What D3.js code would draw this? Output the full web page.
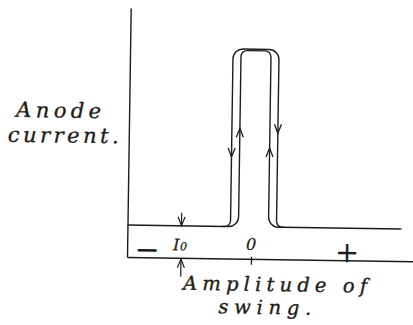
<!DOCTYPE html>
<html>
<head>
<meta charset="utf-8">
<script src="https://cdn.jsdelivr.net/npm/d3@7"></script>
<style>
  body { margin: 0; background: #fff; }
  svg { display: block; }
</style>
</head>
<body>
<div id="chart"></div>
<script>
const w = 413, h = 325;
const m = {l: 127, r: 0, t: 8, b: 68};
const ink = "#1c1c1c";

// amplitude of swing (x) against anode current (y), arbitrary units
const amplitudeDomain = [-1.24, 1.62];
const currentDomain = [0, 10];
const restingCurrent = 1.285; // I0
const outerTrace = [[-1.24, 1.285], [-0.21, 1.285], [-0.21, 8.42], [0.25, 8.42], [0.25, 1.285], [1.5, 1.285]];
const innerTrace = [[-0.30, 1.285], [-0.13, 1.285], [-0.13, 8.36], [0.17, 8.36], [0.17, 1.285], [0.34, 1.285]];
const traceArrows = [[-0.21, 4.08, "down"], [-0.13, 5.24, "up"], [0.17, 4.46, "up"], [0.25, 5.06, "down"]];
// I0 marker arrows: [amplitude, tail current, tip current]
const markerArrows = [[-0.7, 1.81, 1.285], [-0.7, -0.76, -0.04]];
const xTicks = [0];
const signLabels = [[-1.04, "\u2212"], [0.96, "+"]];

const x = d3.scaleLinear().domain(amplitudeDomain).range([m.l, w - m.r]);
const y = d3.scaleLinear().domain(currentDomain).range([h - m.b, m.t]);

const svg = d3.select("#chart").append("svg")
  .attr("width", w).attr("height", h)
  .attr("viewBox", `0 0 ${w} ${h}`);

// the printed figure sits a little askew on the page
const g = svg.append("g")
  .attr("transform", `rotate(0.85, ${x.range()[0]}, ${y(0)})`);

// axes
const xAxis = g.append("g")
  .attr("transform", `translate(0,${y(0)})`)
  .call(d3.axisBottom(x).tickValues(xTicks).tickFormat("").tickSizeOuter(0).tickSizeInner(6));
const yAxis = g.append("g")
  .attr("transform", `translate(${x.range()[0]},0)`)
  .call(d3.axisLeft(y).tickValues([]).tickSizeOuter(0));
g.selectAll(".domain").attr("stroke", ink).attr("stroke-width", 1.4);
xAxis.selectAll(".tick line").attr("stroke", ink).attr("stroke-width", 1.3).attr("y1", -2);

// rounded polyline through the trace points
function rounded(pts, radii) {
  const p = d3.path();
  const px = pts.map(d => [x(d[0]), y(d[1])]);
  p.moveTo(px[0][0], px[0][1]);
  for (let i = 1; i < px.length - 1; i++) {
    p.arcTo(px[i][0], px[i][1], px[i + 1][0], px[i + 1][1], radii[i - 1]);
  }
  p.lineTo(px[px.length - 1][0], px[px.length - 1][1]);
  return p.toString();
}

g.append("path")
  .attr("d", rounded(outerTrace, [6, 10, 10, 6]))
  .attr("fill", "none").attr("stroke", ink).attr("stroke-width", 1.4);
g.append("path")
  .attr("d", rounded(innerTrace, [10, 6, 6, 10]))
  .attr("fill", "none").attr("stroke", ink).attr("stroke-width", 1.4);

function head(px, py, dir) {
  const s = dir === "down" ? -1 : 1;
  return `M${px - 3.5},${py + s * 9}L${px},${py}L${px + 3.5},${py + s * 9}`;
}

g.selectAll(".trace-arrow")
  .data(traceArrows)
  .join("path")
    .attr("class", "trace-arrow")
    .attr("d", d => head(x(d[0]), y(d[1]), d[2]))
    .attr("fill", "none").attr("stroke", ink).attr("stroke-width", 1.3);

const marks = g.selectAll(".marker")
  .data(markerArrows)
  .join("g")
    .attr("class", "marker");
marks.append("line")
  .attr("x1", d => x(d[0])).attr("x2", d => x(d[0]))
  .attr("y1", d => y(d[1])).attr("y2", d => y(d[2]))
  .attr("stroke", ink).attr("stroke-width", 1.2);
marks.append("path")
  .attr("d", d => head(x(d[0]), y(d[2]), d[2] < d[1] ? "down" : "up"))
  .attr("fill", "none").attr("stroke", ink).attr("stroke-width", 1.2);

// labels, a touch heavier to match the hand lettering
const font = "'DejaVu Serif', serif";
function label(txt, lx, ly, size, len) {
  const t = g.append("text")
    .attr("x", lx).attr("y", ly)
    .attr("font-family", font).attr("font-style", "italic")
    .attr("font-size", size).attr("fill", ink)
    .attr("stroke", ink).attr("stroke-width", 0.35)
    .text(txt);
  if (len) t.attr("textLength", len).attr("lengthAdjust", "spacing");
  return t;
}

label("Anode", 14, 118.5, 21, 85);
label("current.", 6, 143.5, 21, 111);
label("Amplitude of", 183.5, 289, 19.5, 184);
label("swing.", 219, 312, 19.5, 93);

// I0 and zero on the axis
const i0 = g.append("text")
  .attr("x", x(-0.78)).attr("y", y(restingCurrent) + 24.5)
  .attr("font-family", font).attr("font-style", "italic")
  .attr("font-size", 16).attr("fill", ink)
  .attr("stroke", ink).attr("stroke-width", 0.3);
i0.append("tspan").text("I");
i0.append("tspan").attr("font-size", 11).attr("dx", 0.5).text("0");

g.selectAll(".tick-label")
  .data(xTicks)
  .join("text")
    .attr("class", "tick-label")
    .attr("x", d => x(d)).attr("y", y(0) - 9)
    .attr("text-anchor", "middle")
    .attr("font-family", font).attr("font-style", "italic")
    .attr("font-size", 16).attr("fill", ink)
    .attr("stroke", ink).attr("stroke-width", 0.3)
    .text("0");

g.selectAll(".sign")
  .data(signLabels)
  .join("text")
    .attr("class", "sign")
    .attr("x", d => x(d[0])).attr("y", y(0))
    .attr("dy", d => d[1] === "+" ? 2 : 2.3)
    .attr("text-anchor", "middle")
    .attr("font-family", "'DejaVu Sans', sans-serif")
    .attr("font-size", d => d[1] === "+" ? 29 : 30)
    .attr("fill", ink)
    .text(d => d[1]);
</script>
</body>
</html>
